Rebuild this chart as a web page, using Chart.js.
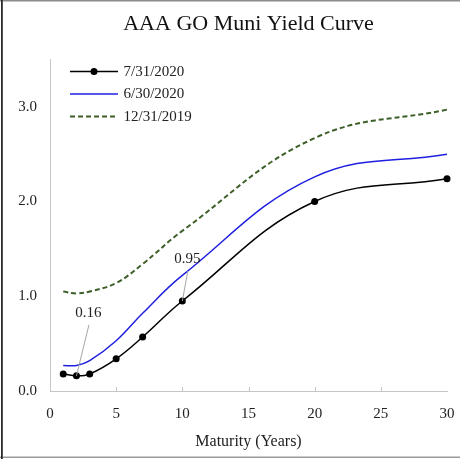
<!DOCTYPE html>
<html>
<head>
<meta charset="utf-8">
<script src="https://cdn.jsdelivr.net/npm/chart.js@4.4.1/dist/chart.umd.min.js"></script>
<style>
  html, body { margin: 0; padding: 0; background: #fff; }
  canvas { display: block; }
</style>
</head>
<body>
<canvas id="yieldChart" width="460" height="459"></canvas>
<script>
const maturities = [1, 2, 3, 5, 7, 10, 20, 30];
const yieldsJul2020 = [0.18, 0.16, 0.18, 0.34, 0.57, 0.95, 2.00, 2.24];
const yieldsJun2020 = [0.27, 0.27, 0.32, 0.53, 0.82, 1.22, 2.26, 2.50];
const yieldsDec2019 = [1.05, 1.03, 1.05, 1.14, 1.34, 1.69, 2.67, 2.97];
const seriesLabels = ['7/31/2020', '6/30/2020', '12/31/2019'];
const xTicks = [0, 5, 10, 15, 20, 25, 30];
const yTicks = [0, 1, 2, 3];
const callouts = [
  { x: 2, y: 0.16, text: '0.16' },
  { x: 10, y: 0.95, text: '0.95' },
];

const serif = "'Liberation Serif', 'Times New Roman', serif";
Chart.defaults.font.family = serif;

function toPoints(ys) {
  return maturities.map((m, i) => ({ x: m, y: ys[i] }));
}

// label offsets (px) from the point each callout refers to
const calloutOffsets = [{ dx: 12, dy: -63 }, { dx: 5, dy: -42 }];

const extras = {
  id: 'extras',
  beforeDraw(chart) {
    const ctx = chart.ctx;
    ctx.save();
    ctx.fillStyle = '#fff';
    ctx.fillRect(0, 0, chart.width, chart.height);
    ctx.fillStyle = '#8c8c8c';
    ctx.fillRect(0, 0, chart.width, 1.5);
    ctx.fillStyle = '#9a9a9a';
    ctx.fillRect(0, 456.5, chart.width, 1.5);
    ctx.fillStyle = '#2b2b2b';
    ctx.fillRect(1, 0, 1.8, chart.height);
    ctx.restore();
  },
  afterDraw(chart) {
    const ctx = chart.ctx;
    const area = chart.chartArea;
    const xs = chart.scales.x;
    const ys = chart.scales.y;
    ctx.save();

    // small inside tick marks on the x axis
    ctx.strokeStyle = '#c6c6c6';
    ctx.lineWidth = 1;
    xTicks.slice(1, -1).forEach(v => {
      const px = Math.round(xs.getPixelForValue(v)) + 0.5;
      ctx.beginPath();
      ctx.moveTo(px, area.bottom);
      ctx.lineTo(px, area.bottom - 4);
      ctx.stroke();
    });

    // legend
    ctx.font = '15px ' + serif;
    ctx.textBaseline = 'middle';
    ctx.textAlign = 'left';
    chart.data.datasets.forEach((ds, i) => {
      const y = area.top + 12 + i * 22.5;
      const x0 = area.left + 20;
      const x1 = area.left + 68;
      ctx.strokeStyle = ds.borderColor;
      ctx.lineWidth = ds.borderWidth;
      ctx.setLineDash(ds.borderDash || []);
      ctx.beginPath();
      ctx.moveTo(x0, y);
      ctx.lineTo(x1, y);
      ctx.stroke();
      ctx.setLineDash([]);
      if (ds.pointRadius) {
        ctx.fillStyle = ds.pointBackgroundColor;
        ctx.beginPath();
        ctx.arc((x0 + x1) / 2, y, ds.pointRadius, 0, Math.PI * 2);
        ctx.fill();
      }
      ctx.fillStyle = '#222';
      ctx.fillText(ds.label, area.left + 73.5, y + 0.5);
    });

    // data callouts
    ctx.textAlign = 'center';
    callouts.forEach((c, i) => {
      const px = xs.getPixelForValue(c.x);
      const py = ys.getPixelForValue(c.y);
      const lx = px + calloutOffsets[i].dx;
      const ly = py + calloutOffsets[i].dy;
      ctx.strokeStyle = '#a6a6a6';
      ctx.lineWidth = 1;
      ctx.beginPath();
      ctx.moveTo(lx + 0.5, ly + 12);
      ctx.lineTo(px, py);
      ctx.stroke();
      ctx.fillStyle = '#222';
      ctx.fillText(c.text, lx, ly);
    });
    ctx.restore();
  }
};

new Chart(document.getElementById('yieldChart').getContext('2d'), {
  type: 'line',
  data: {
    datasets: [
      {
        label: seriesLabels[0],
        data: toPoints(yieldsJul2020),
        borderColor: '#000000',
        backgroundColor: '#000000',
        pointBackgroundColor: '#000000',
        pointBorderWidth: 0,
        pointRadius: 3.5,
        borderWidth: 1.5,
        tension: 0.4,
        clip: false,
        fill: false,
      },
      {
        label: seriesLabels[1],
        data: toPoints(yieldsJun2020),
        borderColor: '#1f1fe0',
        borderWidth: 1.5,
        pointRadius: 0,
        tension: 0.4,
        clip: false,
        fill: false,
      },
      {
        label: seriesLabels[2],
        data: toPoints(yieldsDec2019),
        borderColor: '#3d5f28',
        borderWidth: 2,
        borderDash: [5, 3],
        pointRadius: 0,
        tension: 0.4,
        clip: false,
        fill: false,
      },
    ],
  },
  options: {
    responsive: false,
    animation: false,
    layout: { padding: { left: 0, right: 13, top: 0, bottom: 0 } },
    plugins: {
      legend: { display: false },
      tooltip: { enabled: false },
      title: {
        display: true,
        fullSize: false,
        text: 'AAA GO Muni Yield Curve',
        color: '#111',
        font: { size: 22, weight: 'normal', family: serif },
        padding: { top: 11, bottom: 22 },
      },
    },
    scales: {
      x: {
        type: 'linear',
        min: 0,
        max: 30,
        grid: { display: false, drawTicks: false },
        border: { color: '#c6c6c6', width: 1 },
        afterBuildTicks: scale => { scale.ticks = xTicks.map(v => ({ value: v })); },
        afterFit: scale => {
          scale.height = 68;
          scale.paddingLeft = 0;
          scale.paddingRight = 0;
        },
        ticks: { color: '#222', font: { size: 15 }, padding: 14, maxRotation: 0, autoSkip: false },
        title: {
          display: true,
          text: 'Maturity (Years)',
          color: '#222',
          font: { size: 16 },
          padding: { top: 4, bottom: 8 },
        },
      },
      y: {
        min: 0,
        max: 3.5,
        grid: { display: false, drawTicks: false },
        border: { color: '#c6c6c6', width: 1 },
        afterBuildTicks: scale => { scale.ticks = yTicks.map(v => ({ value: v })); },
        afterFit: scale => { scale.width = 50; },
        ticks: {
          color: '#222',
          font: { size: 15 },
          padding: 13,
          callback: v => Number(v).toFixed(1),
        },
      },
    },
  },
  plugins: [extras],
});
</script>
</body>
</html>
